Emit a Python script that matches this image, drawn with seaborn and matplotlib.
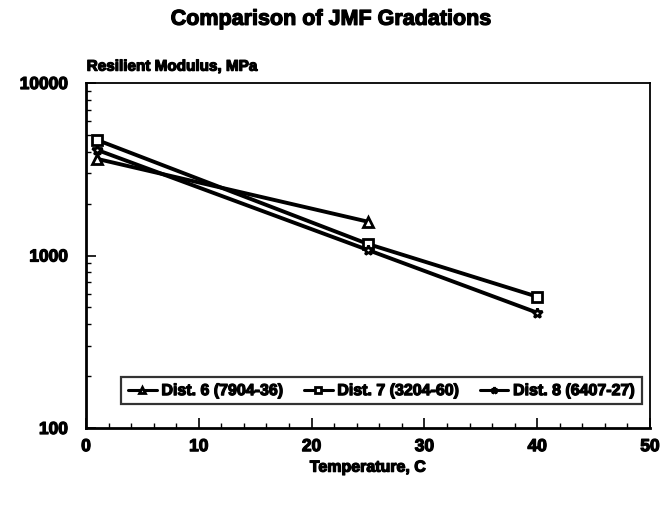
import matplotlib
matplotlib.use("Agg")
import matplotlib.pyplot as plt
import matplotlib.ticker as mticker
import matplotlib.patheffects as pe
import numpy as np
import pandas as pd
import seaborn as sns

# Resilient modulus (MPa) vs. test temperature (C) for three JMF gradations
dist6_temp = [1, 25]
dist6_modulus = [3630, 1570]
dist7_temp = [1, 25, 40]
dist7_modulus = [4670, 1166, 577]
dist8_temp = [1, 25, 40]
dist8_modulus = [4090, 1076, 466]
series_labels = ["Dist. 6 (7904-36)", "Dist. 7 (3204-60)", "Dist. 8 (6407-27)"]
x_ticks = [0, 10, 20, 30, 40, 50]
y_ticks = [100, 1000, 10000]

df = pd.concat([
    pd.DataFrame({"Temperature": dist6_temp, "Modulus": dist6_modulus, "Series": series_labels[0]}),
    pd.DataFrame({"Temperature": dist7_temp, "Modulus": dist7_modulus, "Series": series_labels[1]}),
    pd.DataFrame({"Temperature": dist8_temp, "Modulus": dist8_modulus, "Series": series_labels[2]}),
], ignore_index=True)

sns.set_theme(style="white")
plt.rcParams["font.family"] = ["Liberation Sans", "DejaVu Sans"]
plt.rcParams["font.weight"] = "bold"
for key in ("text.color", "axes.labelcolor", "xtick.color", "ytick.color"):
    plt.rcParams[key] = "black"

# a thin stroke makes the bold lettering heavier
heavy = [pe.withStroke(linewidth=0.9, foreground="black")]

fig = plt.figure(figsize=(6.62, 5.08), dpi=100)
ax = fig.add_axes([86 / 662, 1 - 428 / 508, 564 / 662, 345 / 508])

markers = {series_labels[0]: "^", series_labels[1]: "s", series_labels[2]: "*"}
sns.lineplot(data=df, x="Temperature", y="Modulus", hue="Series", style="Series",
             palette=["black"] * 3, markers=markers, dashes=False, linewidth=2.8,
             markersize=7, markerfacecolor="white", markeredgecolor="black",
             markeredgewidth=2.0, ax=ax, legend=True)

ax.set_yscale("log")
ax.set_xlim(0, 50)
ax.set_ylim(100, 10000)
ax.set_xticks(x_ticks)
ax.xaxis.set_minor_locator(mticker.MultipleLocator(2))
ax.set_yticks(y_ticks)
ax.yaxis.set_major_formatter(mticker.FuncFormatter(lambda v, p: f"{int(round(v))}"))
ax.yaxis.set_minor_locator(mticker.LogLocator(base=10, subs=np.arange(2, 10)))
ax.yaxis.set_minor_formatter(mticker.NullFormatter())

ax.tick_params(axis="both", which="major", direction="in", length=7, width=1.2,
               labelsize=12.5, colors="black")
ax.tick_params(axis="x", which="major", pad=8)
ax.tick_params(axis="y", which="major", pad=13)
ax.tick_params(axis="both", which="minor", direction="in", length=3.5, width=1.0)
ax.tick_params(axis="x", which="both", bottom=True, top=False)
ax.tick_params(axis="y", which="both", left=True, right=False)
for lbl in ax.get_xticklabels() + ax.get_yticklabels():
    lbl.set_fontweight("bold")
    lbl.set_path_effects(heavy)

for side in ax.spines.values():
    side.set_color("black")
    side.set_linewidth(1.3)
ax.spines["bottom"].set_linewidth(2.0)
ax.spines["left"].set_linewidth(2.0)

ax.set_xlabel("Temperature, C", fontsize=11.5, fontweight="bold", labelpad=4,
              path_effects=heavy)
ax.set_ylabel("")
fig.text(0.131, 0.855, "Resilient Modulus, MPa", fontsize=11, fontweight="bold",
         ha="left", va="bottom", path_effects=heavy)
fig.text(0.5, 0.962, "Comparison of JMF Gradations", fontsize=15.5,
         fontweight="bold", ha="center", va="center", path_effects=heavy)

handles, labels = ax.get_legend_handles_labels()
leg = ax.legend(handles, labels, loc="lower center", bbox_to_anchor=(0.524, 0.045),
                ncol=3, frameon=True, fancybox=False, edgecolor="black",
                handlelength=1.8, handletextpad=0.3,
                columnspacing=1.25, borderpad=0.4, markerscale=0.7,
                prop={"weight": "bold", "size": 11.5})
leg.get_frame().set_linewidth(1.6)
for line in leg.get_lines():
    line.set_linewidth(2.2)
for txt in leg.get_texts():
    txt.set_path_effects(heavy)

fig.savefig("out.png", dpi=100, facecolor="white")
